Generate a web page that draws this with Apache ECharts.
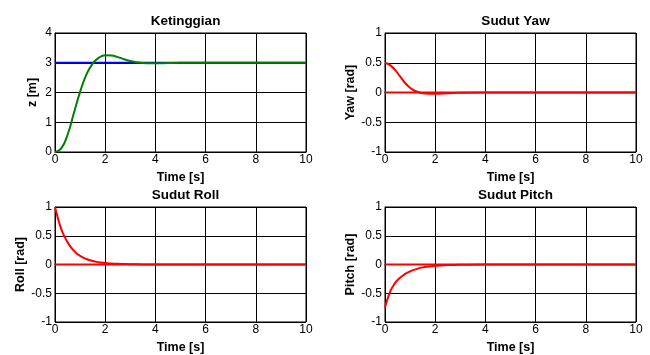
<!DOCTYPE html>
<html><head><meta charset="utf-8">
<script src="https://cdn.jsdelivr.net/npm/echarts@6/dist/echarts.min.js"></script>
<style>html,body{margin:0;padding:0;background:#fff}#c{width:650px;height:355px}</style>
</head><body><div id="c"></div>
<script>
// Ketinggian (altitude)
const timeZ = [0,0.25,0.5,0.75,1.0,1.25,1.5,1.75,2.0,2.25,2.5,2.75,3.0,3.25,3.5,3.75,4.0,4.5,5,6,7,8,9,10];
const zRef  = [3,3,3,3,3,3,3,3,3,3,3,3,3,3,3,3,3,3,3,3,3,3,3,3];
const zResp = [0,0.12,0.58,1.3,2.02,2.6,2.97,3.17,3.25,3.24,3.19,3.12,3.06,3.02,2.99,2.98,2.98,2.99,3.0,3.0,3.0,3.0,3.0,3.0];
// Sudut Yaw
const timeYaw = [0,0.2,0.4,0.6,0.8,1.0,1.2,1.4,1.6,1.8,2.0,2.5,3.0,4,6,8,10];
const yawResp = [0.5,0.46,0.38,0.27,0.16,0.08,0.025,-0.005,-0.018,-0.02,-0.02,-0.012,-0.004,0,0,0,0];
// Sudut Roll
const timeRoll = [0,0.1,0.2,0.3,0.4,0.6,0.8,1.0,1.25,1.5,1.75,2.0,2.5,3.0,3.5,4,6,8,10];
const rollResp = [1,0.83,0.68,0.56,0.47,0.32,0.22,0.15,0.095,0.06,0.04,0.025,0.012,0.006,0.002,0,0,0,0];
// Sudut Pitch
const timePitch = [0,0.1,0.2,0.3,0.5,0.75,1.0,1.25,1.5,1.75,2.0,2.5,3.0,4,6,8,10];
const pitchResp = [-0.75,-0.6,-0.48,-0.39,-0.27,-0.18,-0.12,-0.08,-0.05,-0.035,-0.022,-0.01,-0.004,0,0,0,0];
const refZeroT = [0,10];
const refZero  = [0,0];

const titles = ['Ketinggian','Sudut Yaw','Sudut Roll','Sudut Pitch'];
const yNames = ['z [m]','Yaw [rad]','Roll [rad]','Pitch [rad]'];
const xName = 'Time [s]';

const pairs = (t, v) => t.map((x, i) => [x, v[i]]);
const grids = [
  {left:55, top:33, width:251, height:119},
  {left:385, top:33, width:251, height:119},
  {left:55, top:207, width:251, height:118},
  {left:385, top:207, width:251, height:118}
];
const font = 'Liberation Sans, Arial, sans-serif';
const yRanges = [[0,4,1],[-1,1,0.5],[-1,1,0.5],[-1,1,0.5]];

const option = {
  animation:false,
  backgroundColor:'#fff',
  title: grids.map((g,i)=>({
    text: titles[i], left: g.left + g.width/2, top: g.top - 24, textAlign:'center',
    textStyle:{fontFamily:font, fontSize:13.5, fontWeight:'bold', color:'#000'}
  })),
  grid: grids.map(g=>Object.assign({show:true, borderColor:'#000', borderWidth:1, containLabel:false}, g)),
  xAxis: grids.map((g,i)=>({
    gridIndex:i, type:'value', min:0, max:10, interval:2,
    name:xName, nameLocation:'middle', nameGap:19,
    nameTextStyle:{fontFamily:font, fontSize:12.5, fontWeight:'bold', color:'#000'},
    axisLine:{show:true, lineStyle:{color:'#000', width:1}},
    axisTick:{show:false},
    axisLabel:{fontFamily:font, fontSize:12, color:'#000', margin:2},
    splitLine:{show:true, lineStyle:{color:'#000', width:1}}
  })),
  yAxis: grids.map((g,i)=>({
    gridIndex:i, type:'value', min:yRanges[i][0], max:yRanges[i][1], interval:yRanges[i][2],
    name:yNames[i], nameLocation:'middle', nameGap: i===0 ? 16 : 28,
    nameTextStyle:{fontFamily:font, fontSize:12.5, fontWeight:'bold', color:'#000'},
    axisLine:{show:true, lineStyle:{color:'#000', width:1}},
    axisTick:{show:false},
    axisLabel:{fontFamily:font, fontSize:12, color:'#000', margin:3},
    splitLine:{show:true, lineStyle:{color:'#000', width:1}}
  })),
  series: [
    {type:'line', xAxisIndex:0, yAxisIndex:0, data:pairs(timeZ,zRef), showSymbol:false, lineStyle:{color:'#0000ff', width:2}, itemStyle:{color:'#0000ff'}},
    {type:'line', xAxisIndex:0, yAxisIndex:0, data:pairs(timeZ,zResp), smooth:true, showSymbol:false, lineStyle:{color:'#008000', width:2}, itemStyle:{color:'#008000'}},
    {type:'line', xAxisIndex:1, yAxisIndex:1, data:pairs(refZeroT,refZero), showSymbol:false, lineStyle:{color:'#ff0000', width:2}},
    {type:'line', xAxisIndex:1, yAxisIndex:1, data:pairs(timeYaw,yawResp), smooth:true, showSymbol:false, lineStyle:{color:'#ff0000', width:2}},
    {type:'line', xAxisIndex:2, yAxisIndex:2, data:pairs(refZeroT,refZero), showSymbol:false, lineStyle:{color:'#ff0000', width:2}},
    {type:'line', xAxisIndex:2, yAxisIndex:2, data:pairs(timeRoll,rollResp), smooth:true, showSymbol:false, lineStyle:{color:'#ff0000', width:2}},
    {type:'line', xAxisIndex:3, yAxisIndex:3, data:pairs(refZeroT,refZero), showSymbol:false, lineStyle:{color:'#ff0000', width:2}},
    {type:'line', xAxisIndex:3, yAxisIndex:3, data:pairs(timePitch,pitchResp), smooth:true, showSymbol:false, lineStyle:{color:'#ff0000', width:2}}
  ]
};
const chart = echarts.init(document.getElementById('c'), null, {renderer:'canvas'});
chart.setOption(option);
</script></body></html>
